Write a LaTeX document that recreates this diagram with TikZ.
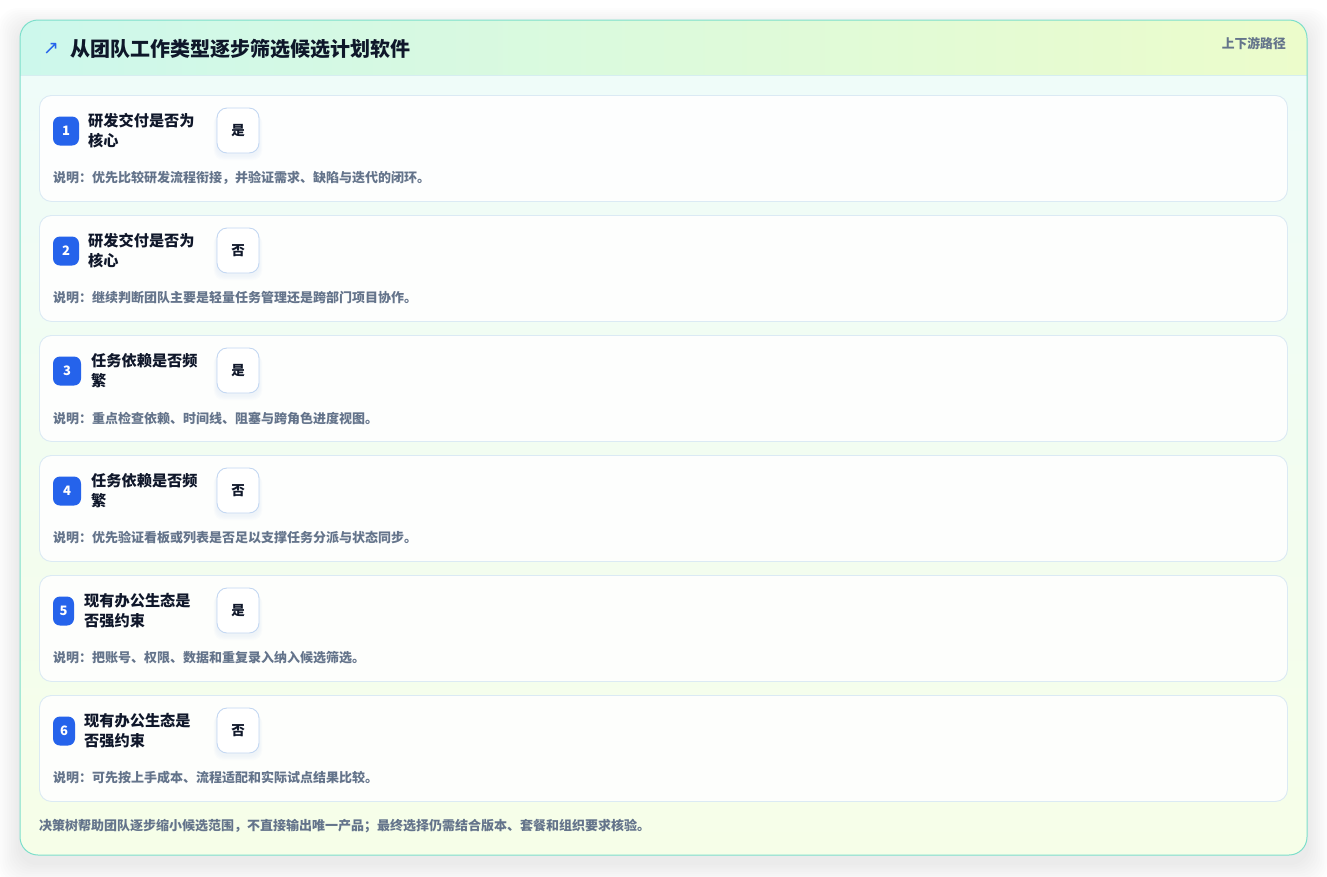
\documentclass[tikz,border=0pt]{standalone}
\usepackage{fontspec}
\setmainfont{Noto Sans CJK SC}
\newfontfamily\symfont{DejaVu Sans}
\definecolor{ink}{HTML}{0F172A}
\definecolor{muted}{HTML}{64748B}
\definecolor{brand}{HTML}{2563EB}
\definecolor{tealb}{HTML}{7DDFCB}
\definecolor{hdrL}{HTML}{CDF8EC}
\definecolor{hdrR}{HTML}{ECFCCB}
\definecolor{bodyA}{HTML}{EFFCF9}
\definecolor{bodyB}{HTML}{F6FEE8}
\definecolor{hdrline}{HTML}{D6EEF0}
\definecolor{cardb}{HTML}{DBEAF4}
\definecolor{ansb}{HTML}{C3D7F2}
\tikzset{
  card/.style={draw=cardb, line width=0.9pt, fill=white, fill opacity=0.88, draw opacity=1, rounded corners=12pt, inner sep=0pt, anchor=north west, minimum width=1248pt, minimum height=106pt},
  badge/.style={fill=brand, rounded corners=7pt, text=white, inner sep=0pt, minimum height=29pt, font=\bfseries\fontsize{13}{13}\selectfont},
  qlabel/.style={anchor=west, align=left, inner sep=0pt, text=ink, font=\bfseries\fontsize{15.2}{20}\selectfont},
  ansbox/.style={draw=ansb, line width=0.9pt, fill=white, rounded corners=10pt, minimum width=42pt, minimum height=45pt, inner sep=0pt, text=ink, font=\bfseries\fontsize{13.5}{13.5}\selectfont},
  desc/.style={anchor=west, inner sep=0pt, text=muted, font=\bfseries\fontsize{13}{13}\selectfont},
}
\begin{document}
\begin{tikzpicture}[x=1pt,y=-1pt]
\useasboundingbox (0,0) rectangle (1327,876);
\fill[white] (0,0) rectangle (1327,876);
% outer shadow
\foreach \i in {1,...,10}
  \fill[black, opacity=0.007, rounded corners=20pt] (20-\i*2.2, 20-\i*2.0+8) rectangle (1307+\i*2.2, 855+\i*2.2+8);
% panel
\begin{scope}
  \clip[rounded corners=18pt] (20,20) rectangle (1307,855);
  \shade[left color=hdrL, right color=hdrR] (20,20) rectangle (1307,75);
  \shade[top color=bodyA, bottom color=bodyB] (20,75) rectangle (1307,855);
  \draw[hdrline, line width=0.9pt] (20,75) -- (1307,75);
\end{scope}
\draw[tealb, line width=1pt, rounded corners=18pt] (20,20) rectangle (1307,855);
% header
\node[text=brand, font=\symfont\fontsize{19}{19}\selectfont, inner sep=0pt] (icon) at (51,49) {↗};
\node[anchor=west, inner sep=0pt, text=ink, font=\bfseries\fontsize{20}{20}\selectfont] (title) at (70,49) {从团队工作类型逐步筛选候选计划软件};
\node[anchor=east, inner sep=0pt, text=muted, font=\bfseries\fontsize{12.8}{12.8}\selectfont] (tag) at (1286,44) {上下游路径};
% cards
\foreach \i/\bw/\lx/\la/\lb/\ans/\dsc in {
  1/26/88/{研发交付是否为}/{核心}/{是}/{说明：优先比较研发流程衔接，并验证需求、缺陷与迭代的闭环。},
  2/26/88/{研发交付是否为}/{核心}/{否}/{说明：继续判断团队主要是轻量任务管理还是跨部门项目协作。},
  3/28/91/{任务依赖是否频}/{繁}/{是}/{说明：重点检查依赖、时间线、阻塞与跨角色进度视图。},
  4/28/91/{任务依赖是否频}/{繁}/{否}/{说明：优先验证看板或列表是否足以支撑任务分派与状态同步。},
  5/21/84/{现有办公生态是}/{否强约束}/{是}/{说明：把账号、权限、数据和重复录入纳入候选筛选。},
  6/22/84/{现有办公生态是}/{否强约束}/{否}/{说明：可先按上手成本、流程适配和实际试点结果比较。}}
{
  \pgfmathsetmacro{\yy}{120*(\i-1)}
  \node[card] (c\i) at (39,95+\yy) {};
  \node[badge, minimum width=\bw pt] (b\i) at (53+\bw/2,131+\yy) {\i};
  \node[qlabel] (q\i) at (\lx,131+\yy) {\la\\\lb};
  \foreach \k in {1,...,4}
    \fill[ansb, opacity=0.06, rounded corners=10pt] (217-\k*0.8,108+\yy+2+\k*0.9) rectangle (259+\k*0.8,153+\yy+2+\k*1.3);
  \node[ansbox] (a\i) at (238,130.5+\yy) {\ans};
  \node[desc] (d\i) at (53,178+\yy) {\dsc};
}
% footer
\node[desc] (foot) at (39,826) {决策树帮助团队逐步缩小候选范围，不直接输出唯一产品；最终选择仍需结合版本、套餐和组织要求核验。};
\end{tikzpicture}
\end{document}
